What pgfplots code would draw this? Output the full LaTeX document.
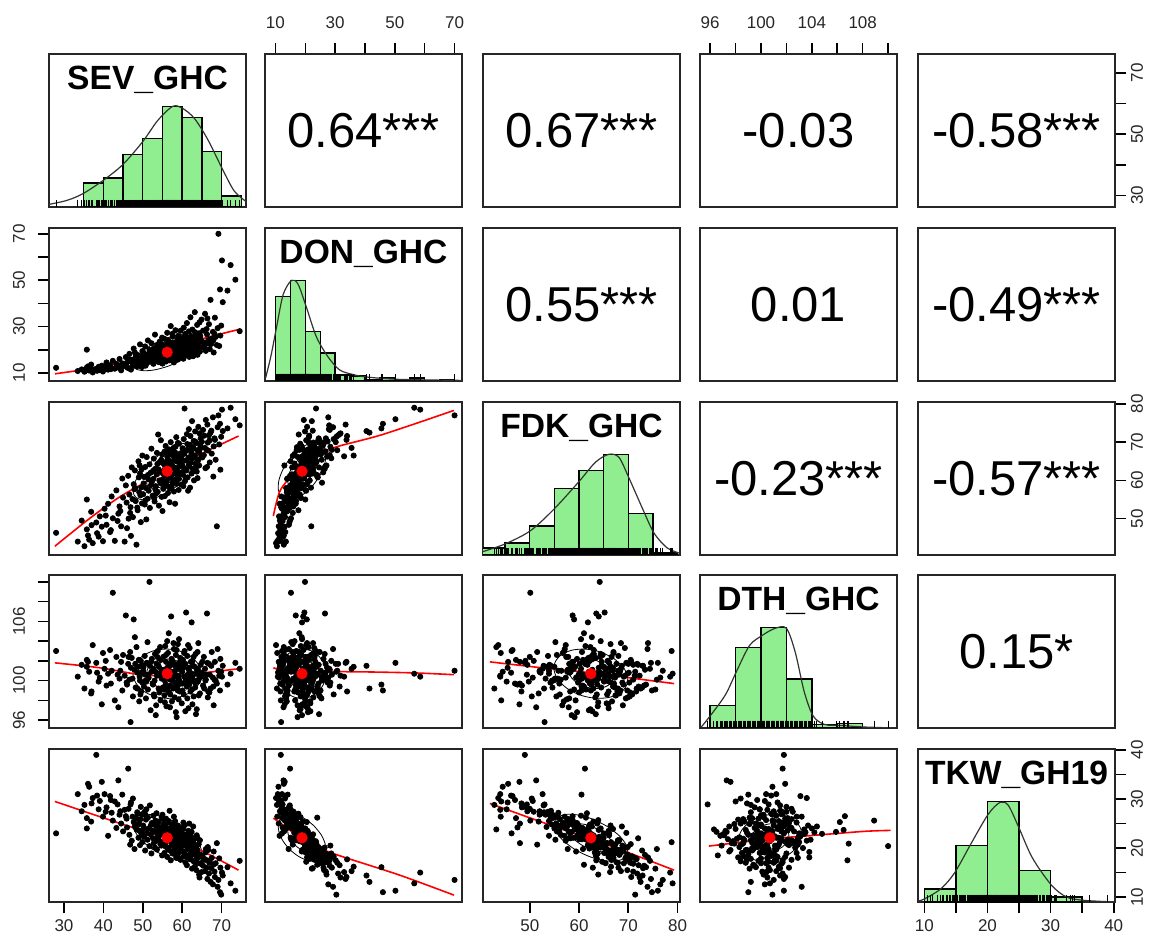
\documentclass[border=0pt]{standalone}
\usepackage{fontspec}
\setmainfont{Liberation Sans}
\usepackage{pgfplots}
\usepackage{pgfplotstable}
\pgfplotsset{compat=1.18}

\definecolor{histgreen}{RGB}{144,238,144}

% SEV DON FDK DTH TKW, one row per line
\pgfplotstableread{
SEV DON FDK DTH TKW
28.0 12.2 46.3 103.0 23.0
33.5 10.8 44.0 100.4 31.0
34.5 11.5 49.5 101.6 27.5
35.2 10.5 42.8 99.2 28.8
35.8 20.0 55.0 101.4 24.0
35.8 12.3 47.2 102.1 26.1
36.4 11.0 44.5 100.9 32.5
36.9 13.6 51.8 98.7 25.4
37.3 10.2 43.6 103.6 30.2
38.2 11.8 49.0 101.8 39.0
38.8 12.6 45.3 99.9 27.9
39.1 11.2 50.6 100.3 29.6
39.6 13.1 47.9 97.6 33.5
39.9 10.6 44.1 102.8 26.4
40.3 12.2 52.6 101.2 31.0
40.8 14.5 48.4 99.5 28.3
41.2 11.4 53.9 100.7 22.5
41.7 13.3 46.5 103.1 30.6
42.1 12.0 55.8 101.0 27.2
42.4 15.2 50.1 108.9 25.6
42.9 11.8 44.2 98.0 29.5
43.3 13.9 57.4 102.4 24.1
43.8 12.7 51.3 97.3 33.8
44.1 16.0 53.2 100.2 26.8
44.5 11.1 48.0 101.9 25.0
44.8 14.1 60.5 99.0 30.9
45.0 12.9 55.5 102.6 23.4
45.4 13.5 44.0 100.5 27.8
45.7 16.8 58.7 106.6 26.5
46.0 12.4 47.5 99.6 24.2
46.3 14.9 61.2 101.7 36.2
46.6 18.2 56.3 100.1 22.7
46.9 11.9 53.0 95.8 28.9
47.2 15.6 63.4 102.3 21.5
47.5 13.2 50.4 98.4 30.1
47.7 20.5 59.0 106.2 25.3
47.9 14.4 57.7 101.1 19.8
48.2 16.9 54.6 99.3 26.1
48.4 12.8 43.2 103.4 23.8
48.7 17.7 52.2 100.8 27.0
48.9 15.1 65.0 101.4 22.1
49.1 13.8 56.9 97.9 24.9
49.3 22.3 61.8 100.0 20.6
49.5 14.7 49.1 102.0 28.4
49.6 16.3 58.2 98.9 23.1
49.8 12.5 54.0 101.6 26.9
49.9 19.4 66.5 99.8 21.2
47.0 11.4 45.5 101.3 29.3
48.0 18.8 62.6 104.4 24.4
46.8 15.8 51.5 102.9 20.7
49.2 13.0 63.9 100.4 25.7
50.1 14.2 56.4 101.0 24.6
50.3 18.6 60.9 99.4 22.3
50.5 16.1 53.7 102.5 27.4
50.6 21.4 63.5 100.6 19.5
50.8 13.6 58.0 98.2 25.8
51.0 17.5 66.1 101.8 23.0
51.2 15.3 55.2 103.9 21.7
51.3 24.0 61.4 99.1 26.2
51.5 16.7 57.3 100.3 24.0
51.7 19.9 64.2 110.0 20.4
51.8 14.8 52.8 101.5 28.7
52.0 18.1 62.0 97.0 22.8
52.2 22.8 68.3 100.9 18.9
52.3 15.9 59.6 102.2 25.1
52.5 17.2 56.0 99.7 23.5
52.7 13.9 60.4 101.2 26.6
52.8 20.6 65.7 98.6 21.0
53.0 16.4 54.5 100.0 24.8
53.1 26.5 63.0 102.7 20.1
53.3 18.9 58.5 96.5 23.3
53.5 15.5 61.6 101.7 27.1
53.6 21.8 67.2 100.5 19.7
53.8 17.0 57.0 103.0 22.5
54.0 19.2 62.9 99.2 25.4
54.1 14.6 53.4 101.4 24.3
54.3 23.5 64.8 100.7 21.4
54.5 16.6 59.3 98.0 23.9
54.6 20.3 70.5 102.1 20.8
54.8 18.4 55.7 100.2 26.3
54.9 25.2 66.8 101.0 18.5
50.9 15.0 49.8 99.9 27.9
53.9 17.8 72.0 101.6 22.0
55.0 17.3 60.2 100.8 23.6
55.1 21.0 64.5 99.3 21.1
55.2 15.7 57.8 102.4 25.9
55.4 19.6 62.7 101.1 22.4
55.5 24.7 67.5 98.5 19.0
55.6 16.2 55.9 100.0 24.5
55.7 18.5 61.3 103.5 23.2
55.8 22.1 69.0 99.6 20.3
55.9 14.9 58.6 101.9 26.0
56.0 20.2 63.8 97.4 21.8
56.1 17.6 59.9 100.6 23.0
56.2 27.3 66.2 101.3 18.2
56.3 19.0 62.4 99.0 22.7
56.4 16.0 56.7 102.8 25.2
56.5 23.3 65.3 100.4 20.0
56.6 18.0 61.0 104.8 22.9
56.7 20.9 68.1 98.8 19.6
56.8 15.4 54.3 101.5 27.6
56.9 22.5 63.1 100.1 21.5
57.0 17.9 60.7 99.5 24.1
57.1 30.2 70.0 101.7 17.5
57.2 19.3 64.0 106.5 23.7
57.3 16.5 58.3 100.9 22.0
57.4 21.6 66.7 97.9 20.9
57.5 18.2 62.2 102.0 24.8
57.6 25.6 59.4 100.3 19.3
57.7 17.1 67.9 99.2 21.6
57.8 20.5 61.7 101.6 23.4
57.9 14.5 57.1 103.2 26.4
58.0 22.9 65.9 100.7 18.8
58.1 19.8 63.3 98.3 22.2
58.2 16.8 53.9 101.0 25.5
58.3 28.4 68.8 99.8 20.5
58.4 18.7 62.8 102.6 21.3
58.5 21.2 71.3 100.5 18.0
58.6 17.4 59.1 96.3 23.8
58.7 23.8 64.9 101.4 20.7
58.8 19.5 60.5 99.4 22.6
58.9 15.8 66.4 103.7 24.6
59.0 26.0 62.1 100.2 19.9
59.1 20.0 57.5 98.1 21.9
59.2 18.3 69.6 101.8 23.1
59.3 22.0 63.6 100.0 17.9
59.5 16.9 61.9 102.3 24.2
59.6 24.4 67.1 99.7 20.2
59.8 19.1 58.9 101.2 22.1
59.9 21.7 65.6 97.7 21.0
60.0 18.6 64.1 100.9 22.3
60.1 25.1 68.4 99.0 19.4
60.2 21.3 61.5 102.1 21.7
60.3 16.4 66.9 101.3 23.9
60.4 29.5 70.8 98.6 18.3
60.5 20.1 63.2 100.4 20.6
60.6 23.6 78.8 103.0 21.2
60.7 17.7 59.8 99.8 24.7
60.8 26.8 67.6 101.7 17.1
61.0 19.7 65.2 106.9 20.9
61.1 22.6 62.6 100.1 22.8
61.2 31.5 72.1 99.4 16.5
61.3 18.1 68.0 102.5 21.4
61.4 24.2 60.8 100.6 19.8
61.6 20.8 66.0 97.2 23.5
61.7 27.9 73.4 101.1 18.6
61.8 16.9 63.7 99.6 25.0
61.9 23.0 69.3 103.3 20.0
62.0 21.9 58.1 100.8 22.1
62.1 34.0 71.6 98.9 17.7
62.2 19.4 64.6 101.9 21.3
62.3 25.8 67.3 100.3 19.1
62.4 18.9 61.8 105.9 23.3
62.5 22.2 75.5 99.1 15.8
62.6 28.7 65.8 102.0 18.9
62.7 20.4 63.0 100.5 20.4
62.8 17.2 68.7 101.5 24.4
62.9 24.9 70.3 98.4 17.3
63.0 21.5 60.0 100.0 21.8
63.2 36.2 66.5 101.4 16.2
63.3 19.9 72.8 99.3 19.5
63.4 23.4 64.4 102.7 20.1
63.6 26.3 69.8 100.7 15.5
63.7 18.4 62.3 97.1 22.6
63.8 30.7 67.9 101.0 17.0
64.0 22.4 65.1 99.9 19.0
64.1 20.6 74.0 103.8 18.1
64.3 27.1 63.9 100.2 14.6
64.5 19.2 68.2 98.7 21.6
64.7 24.5 71.0 101.6 16.8
64.9 33.0 66.3 100.4 15.1
65.0 21.0 70.1 100.8 18.4
65.3 28.2 73.2 99.5 16.4
65.5 23.1 66.6 102.4 17.6
65.8 35.5 68.5 101.2 15.3
66.0 19.5 75.8 100.1 19.8
66.3 26.6 63.5 106.8 17.5
66.5 22.7 69.9 98.3 20.2
66.8 31.0 71.8 101.7 14.8
67.0 20.3 64.7 100.6 17.2
67.2 41.5 72.5 99.2 13.1
67.5 24.8 67.0 102.9 18.0
67.8 27.7 76.5 100.3 12.6
68.0 18.8 68.9 97.5 19.3
68.3 33.8 70.6 101.9 14.1
68.5 25.5 65.4 100.0 16.9
68.8 22.0 48.0 99.7 21.0
69.0 29.3 73.9 103.2 12.1
69.2 70.0 77.0 101.0 13.5
69.4 21.6 69.4 100.5 17.9
69.6 46.0 74.8 99.0 11.0
69.7 26.1 62.8 102.2 16.0
69.9 30.4 71.4 100.9 10.5
70.1 58.5 78.5 100.4 15.0
66.6 24.0 67.8 98.9 19.6
70.3 40.5 72.9 101.5 14.4
71.5 45.5 73.6 99.6 16.1
72.3 56.5 79.0 100.7 12.8
73.5 50.2 76.0 101.8 11.3
74.6 28.0 74.4 101.2 17.4
51.4 17.9 60.3 100.6 23.9
52.1 16.3 58.8 101.9 24.7
52.6 19.7 62.5 99.6 22.0
53.2 15.2 57.6 100.9 25.6
53.7 20.7 64.3 102.4 21.6
54.2 17.5 60.0 98.8 23.7
54.7 22.4 65.4 101.1 20.5
55.3 18.8 61.6 100.3 22.8
55.3 16.6 59.0 99.1 24.9
55.9 21.9 64.8 102.6 21.2
56.0 19.1 62.0 100.9 23.4
56.4 24.1 66.9 99.4 19.8
56.6 17.0 58.4 101.4 25.5
57.0 20.6 63.6 98.6 21.9
57.3 23.0 61.8 102.2 20.6
57.6 18.6 65.0 100.0 23.0
58.0 15.9 60.1 101.7 24.3
58.2 21.4 67.3 99.3 20.0
58.6 19.4 63.0 103.1 22.4
59.0 17.8 61.2 100.5 23.6
59.4 23.1 66.0 98.9 19.4
59.7 20.4 64.6 101.5 21.3
60.1 18.0 62.2 99.7 22.9
60.5 22.8 67.0 102.8 19.0
60.9 19.6 60.6 100.2 21.8
61.3 25.4 69.5 98.2 18.1
61.7 21.1 64.0 101.3 20.3
62.1 18.5 66.1 99.9 22.6
62.5 23.9 68.2 100.7 18.6
62.9 20.0 62.4 102.4 21.0
63.3 27.5 70.2 99.8 17.4
63.8 22.1 65.5 101.2 19.7
64.2 19.8 67.4 98.5 20.8
64.6 25.9 69.1 100.4 16.9
65.1 23.4 66.0 101.9 18.2
65.6 21.3 71.7 99.2 17.8
66.2 28.9 68.0 100.6 16.0
66.9 24.3 70.4 98.8 17.0
67.4 22.5 73.0 101.5 15.9
68.2 26.9 71.0 100.1 15.2
47.4 14.1 55.1 100.2 26.4
48.1 15.5 58.0 101.7 24.9
48.6 13.4 52.9 99.2 27.3
49.0 16.6 60.8 102.1 23.6
49.4 14.0 56.1 98.6 25.9
49.7 17.3 62.9 100.8 22.6
50.2 15.6 59.2 101.4 24.0
50.7 13.1 54.8 100.0 26.7
44.3 13.0 52.0 101.0 27.5
45.9 14.3 54.2 99.8 26.0
46.4 12.0 50.0 102.4 28.0
43.6 12.4 49.4 100.6 28.9
41.9 11.6 47.0 99.7 29.8
40.6 12.9 50.8 102.0 27.4
38.4 10.9 46.2 100.8 30.7
37.0 11.7 48.3 98.9 29.1
36.1 12.8 45.6 101.9 33.1
56.9 18.4 57.9 97.3 23.3
58.4 20.9 59.6 96.8 22.5
55.6 19.9 63.9 97.8 21.4
60.8 21.7 62.7 96.9 20.5
53.4 17.4 56.6 97.5 24.4
62.6 19.0 65.9 97.6 19.6
57.8 22.6 68.5 103.8 19.2
59.2 18.9 60.4 104.2 23.2
54.4 21.1 62.3 103.4 22.9
61.5 20.3 57.3 103.6 21.5
56.2 16.4 64.4 104.0 24.0
63.5 24.6 63.4 96.6 18.5
52.9 18.5 55.4 98.4 25.0
58.9 24.8 69.8 99.0 18.7
55.0 14.0 52.0 100.9 26.8
60.3 16.1 58.5 101.6 25.2
64.4 31.8 72.3 100.5 14.0
65.9 20.1 63.2 100.0 19.1
66.4 33.5 74.6 101.8 13.7
67.9 24.0 61.0 99.4 16.6
63.9 17.8 60.6 102.9 22.0
57.5 26.8 63.8 100.8 18.9
59.6 28.2 66.6 101.1 17.6
}\pairs

% unit circle, used for the correlation ellipses
\pgfplotstableread{
c s
1 0
0.9239 0.3827
0.7071 0.7071
0.3827 0.9239
0 1
-0.3827 0.9239
-0.7071 0.7071
-0.9239 0.3827
-1 0
-0.9239 -0.3827
-0.7071 -0.7071
-0.3827 -0.9239
0 -1
0.3827 -0.9239
0.7071 -0.7071
0.9239 -0.3827
1 0
}\unitcircle

\pgfplotsset{
  panel/.style={
    scale only axis, width=98.5pt, height=76.5pt, anchor=south west,
    axis line style={line width=1pt, black!85},
    xtick=\empty, ytick=\empty,
    tick align=outside, major tick length=5.5pt,
    tick style={black, line width=0.8pt},
    tick label style={font=\fontsize{8.5}{10}\selectfont, black!85},
  },
  pts/.style={only marks, mark=*, mark size=1.3pt, black},
  loess/.style={red, line width=0.8pt, smooth},
  meandot/.style={only marks, mark=*, mark size=2.6pt, red},
  ell/.style={black, line width=0.4pt, smooth},
  hist/.style={ybar interval, fill=histgreen, draw=black, line width=0.7pt},
  dens/.style={black!80, line width=0.6pt, smooth},
  rug/.style={only marks, mark=|, mark size=1.75pt, black, mark options={line width=0.5pt}},
  topticks/.style={xtick pos=right, xticklabel pos=right,
    xticklabel style={anchor=south, yshift=3.5pt}},
  bottomticks/.style={xtick pos=left, xticklabel pos=left},
  leftticks/.style={ytick pos=left, yticklabel pos=left,
    yticklabel style={rotate=90, anchor=south}, yticklabel shift=3pt},
  rightticks/.style={ytick pos=right, yticklabel pos=right,
    yticklabel style={rotate=90, anchor=north}, yticklabel shift=-1pt},
  sevx/.style={xmin=26.2, xmax=76.2}, sevy/.style={ymin=26.2, ymax=76.2},
  donx/.style={xmin=6.5, xmax=72.5},  dony/.style={ymin=6.5, ymax=72.5},
  fdkx/.style={xmin=40.5, xmax=80.5}, fdky/.style={ymin=40.5, ymax=80.5},
  dthx/.style={xmin=95.2, xmax=110.7}, dthy/.style={ymin=95.2, ymax=110.7},
  tkwx/.style={xmin=9.0, xmax=40.2},  tkwy/.style={ymin=9.0, ymax=40.2},
  histy/.style={ymin=0, ymax=1.52},
  blank/.style={xmin=0, xmax=1, ymin=0, ymax=1},
}

\newcommand{\varlabel}[1]{\node[font=\fontsize{16.8}{18}\selectfont\bfseries] at (rel axis cs:0.5,0.83) {#1};}
\newcommand{\corrtext}[1]{\node[font=\fontsize{24.5}{27}\selectfont] at (rel axis cs:0.5,0.5) {#1};}
% mean x, sd x, mean y, sd y, r
\newcommand{\ellipses}[5]{%
  \addplot[ell] table[x expr={#1+#2*0.7071*(\thisrow{c}*sqrt(1+(#5))-\thisrow{s}*sqrt(1-(#5)))},
                      y expr={#3+#4*0.7071*(\thisrow{c}*sqrt(1+(#5))+\thisrow{s}*sqrt(1-(#5)))}] {\unitcircle};
  \addplot[ell] table[x expr={#1+0.6*#2*0.7071*(\thisrow{c}*sqrt(1+(#5))-\thisrow{s}*sqrt(1-(#5)))},
                      y expr={#3+0.6*#4*0.7071*(\thisrow{c}*sqrt(1+(#5))+\thisrow{s}*sqrt(1-(#5)))}] {\unitcircle};
}

\begin{document}
\begin{tikzpicture}
\path[use as bounding box] (0,0) rectangle (578.5pt,471.5pt);

% ---------------- row 1
\begin{axis}[panel, at={(24.5pt,368pt)}, sevx, histy]
  \addplot[hist] coordinates {(35,0.24)(40,0.29)(45,0.52)(50,0.68)(55,1.0)(60,0.89)(65,0.55)(70,0.11)(75,0.11)};
  \addplot[dens] coordinates {(26.2,0.026)(30.7,0.065)(34.7,0.13)(39.8,0.26)(44.9,0.42)(50,0.65)(53.8,0.86)(57.6,1.0)(60.1,0.98)(63.1,0.88)(66.5,0.67)(70.3,0.37)(73.2,0.16)(76.2,0.055)};
  \addplot[rug] table[x=SEV, y expr=0.035] {\pairs};
  \varlabel{SEV\_GHC}
\end{axis}
\begin{axis}[panel, at={(132.5pt,368pt)}, donx, ymin=0, ymax=1, topticks,
    xtick={10,20,...,70}, xticklabels={10,,30,,50,,70}]
  \corrtext{0.64***}
\end{axis}
\begin{axis}[panel, at={(241.5pt,368pt)}, blank]
  \corrtext{0.67***}
\end{axis}
\begin{axis}[panel, at={(350pt,368pt)}, dthx, ymin=0, ymax=1, topticks,
    xtick={96,98,...,110}, xticklabels={96,,100,,104,,108,}]
  \corrtext{-0.03}
\end{axis}
\begin{axis}[panel, at={(459pt,368pt)}, xmin=0, xmax=1, sevy, rightticks,
    ytick={30,40,...,70}, yticklabels={30,,50,,70}]
  \corrtext{-0.58***}
\end{axis}

% ---------------- row 2
\begin{axis}[panel, at={(24.5pt,281pt)}, sevx, dony, leftticks,
    ytick={10,20,...,70}, yticklabels={10,,30,,50,,70}]
  \addplot[pts] table[x=SEV, y=DON] {\pairs};
  \ellipses{56.2}{8.7}{18.9}{8.0}{0.64}
  \addplot[loess] coordinates {(27.7,9.6)(39,12.4)(49,15.9)(56,19.4)(64.5,24.4)(74.3,28.7)};
  \addplot[meandot] coordinates {(56.2,18.9)};
\end{axis}
\begin{axis}[panel, at={(132.5pt,281pt)}, donx, histy]
  \addplot[hist] coordinates {(10,0.84)(15,1.0)(20,0.49)(25,0.28)(30,0.06)(35,0.05)(40,0.015)(45,0.03)(50,0.015)(55,0.03)(60,0)(65,0.015)(70,0.015)};
  \addplot[dens] coordinates {(6.7,0.03)(8.5,0.25)(10.4,0.54)(12.6,0.86)(15.4,1.0)(17.6,0.96)(20.4,0.73)(23.7,0.44)(27.6,0.24)(31.5,0.11)(35.9,0.065)(40.4,0.04)(51.5,0.016)(72.5,0.006)};
  \addplot[rug] table[x=DON, y expr=0.035] {\pairs};
  \varlabel{DON\_GHC}
\end{axis}
\begin{axis}[panel, at={(241.5pt,281pt)}, blank]
  \corrtext{0.55***}
\end{axis}
\begin{axis}[panel, at={(350pt,281pt)}, blank]
  \corrtext{0.01}
\end{axis}
\begin{axis}[panel, at={(459pt,281pt)}, blank]
  \corrtext{-0.49***}
\end{axis}

% ---------------- row 3
\begin{axis}[panel, at={(24.5pt,194pt)}, sevx, fdky]
  \addplot[pts] table[x=SEV, y=FDK] {\pairs};
  \ellipses{56.2}{8.7}{62.4}{7.5}{0.67}
  \addplot[loess] coordinates {(27.7,42.8)(36.7,50.2)(45.1,56.3)(56.1,62.4)(64.5,66.8)(74.3,71.6)};
  \addplot[meandot] coordinates {(56.2,62.4)};
\end{axis}
\begin{axis}[panel, at={(132.5pt,194pt)}, donx, fdky]
  \addplot[pts] table[x=DON, y=FDK] {\pairs};
  \ellipses{18.9}{8.0}{62.4}{7.5}{0.55}
  \addplot[loess] coordinates {(9.3,50.7)(11.5,57.2)(15.9,61.6)(21.5,65.5)(29.3,68.5)(45.9,72)(69.8,78.3)};
  \addplot[meandot] coordinates {(18.9,62.4)};
\end{axis}
\begin{axis}[panel, at={(241.5pt,194pt)}, fdkx, histy]
  \addplot[hist] coordinates {(40,0.07)(45,0.12)(50,0.29)(55,0.66)(60,0.84)(65,1.0)(70,0.41)(75,0.02)(80,0.02)};
  \addplot[dens] coordinates {(40.5,0.034)(45,0.11)(50.1,0.24)(55,0.46)(60,0.73)(63.3,0.92)(66,1.0)(68.1,0.97)(70.1,0.77)(72.9,0.46)(75.2,0.22)(77.9,0.07)(80.5,0.017)};
  \addplot[rug] table[x=FDK, y expr=0.035] {\pairs};
  \varlabel{FDK\_GHC}
\end{axis}
\begin{axis}[panel, at={(350pt,194pt)}, blank]
  \corrtext{-0.23***}
\end{axis}
\begin{axis}[panel, at={(459pt,194pt)}, xmin=0, xmax=1, fdky, rightticks,
    ytick={50,60,70,80}, yticklabels={50,60,70,80}]
  \corrtext{-0.57***}
\end{axis}

% ---------------- row 4
\begin{axis}[panel, at={(24.5pt,107.5pt)}, sevx, dthy, leftticks,
    ytick={96,98,...,110}, yticklabels={96,,100,,,106,,}]
  \addplot[pts] table[x=SEV, y=DTH] {\pairs};
  \ellipses{56.2}{8.7}{100.7}{2.5}{-0.03}
  \addplot[loess] coordinates {(27.7,101.8)(39.1,101.3)(49.3,100.6)(56.1,100.5)(61,100.6)(74.3,101.2)};
  \addplot[meandot] coordinates {(56.2,100.7)};
\end{axis}
\begin{axis}[panel, at={(132.5pt,107.5pt)}, donx, dthy]
  \addplot[pts] table[x=DON, y=DTH] {\pairs};
  \ellipses{18.9}{8.0}{100.7}{2.5}{0.01}
  \addplot[loess] coordinates {(9.3,101.3)(18.2,100.6)(29.3,100.9)(54.3,100.8)(69.8,100.6)};
  \addplot[meandot] coordinates {(18.9,100.7)};
\end{axis}
\begin{axis}[panel, at={(241.5pt,107.5pt)}, fdkx, dthy]
  \addplot[pts] table[x=FDK, y=DTH] {\pairs};
  \ellipses{62.4}{7.5}{100.7}{2.5}{-0.23}
  \addplot[loess] coordinates {(41.9,101.9)(52.4,101.3)(62.3,100.8)(71.5,100.2)(79.3,99.7)};
  \addplot[meandot] coordinates {(62.4,100.7)};
\end{axis}
\begin{axis}[panel, at={(350pt,107.5pt)}, dthx, histy]
  \addplot[hist] coordinates {(96,0.226)(98,0.80)(100,1.0)(102,0.486)(104,0.035)(106,0.045)(108,0.045)};
  \addplot[dens] coordinates {(95.3,0.01)(96,0.12)(97.2,0.33)(98.1,0.57)(99.1,0.82)(100.1,0.92)(101.1,0.99)(102,0.99)(102.7,0.75)(103.4,0.36)(104.1,0.12)(105,0.035)(106.3,0.025)(108.1,0.01)(110.6,0)};
  \addplot[rug] table[x=DTH, y expr=0.035] {\pairs};
  \varlabel{DTH\_GHC}
\end{axis}
\begin{axis}[panel, at={(459pt,107.5pt)}, blank]
  \corrtext{0.15*}
\end{axis}

% ---------------- row 5
\begin{axis}[panel, at={(24.5pt,20.5pt)}, sevx, tkwy, bottomticks,
    xtick={30,40,...,70}, xticklabels={30,40,50,60,70}]
  \addplot[pts] table[x=SEV, y=TKW] {\pairs};
  \ellipses{56.2}{8.7}{22.1}{4.8}{-0.58}
  \addplot[loess] coordinates {(27.7,29.5)(39.1,26.4)(49.3,23.7)(56.1,22.0)(64.5,19.6)(74.3,15.5)};
  \addplot[meandot] coordinates {(56.2,22.1)};
\end{axis}
\begin{axis}[panel, at={(132.5pt,20.5pt)}, donx, tkwy]
  \addplot[pts] table[x=DON, y=TKW] {\pairs};
  \ellipses{18.9}{8.0}{22.1}{4.8}{-0.49}
  \addplot[loess] coordinates {(9.3,26.1)(14.8,23.7)(18.7,21.7)(29.3,18.9)(51.5,14.5)(69.8,10.4)};
  \addplot[meandot] coordinates {(18.9,22.1)};
\end{axis}
\begin{axis}[panel, at={(241.5pt,20.5pt)}, fdkx, tkwy, bottomticks,
    xtick={50,60,70,80}, xticklabels={50,60,70,80}]
  \addplot[pts] table[x=FDK, y=TKW] {\pairs};
  \ellipses{62.4}{7.5}{22.1}{4.8}{-0.57}
  \addplot[loess] coordinates {(41.9,29.1)(52.4,25.3)(62.3,21.9)(71.5,18.5)(79.3,15.5)};
  \addplot[meandot] coordinates {(62.4,22.1)};
\end{axis}
\begin{axis}[panel, at={(350pt,20.5pt)}, dthx, tkwy]
  \addplot[pts] table[x=DTH, y=TKW] {\pairs};
  \ellipses{100.7}{2.5}{22.1}{4.8}{0.15}
  \addplot[loess] coordinates {(95.9,20.4)(100.8,21.9)(103.7,22.5)(108.1,23.4)(110.2,23.6)};
  \addplot[meandot] coordinates {(100.7,22.1)};
\end{axis}
\begin{axis}[panel, at={(459pt,20.5pt)}, tkwx, histy, bottomticks, rightticks,
    xtick={10,15,...,40}, xticklabels={10,,20,,30,,40},
    ytick={0.0487,0.2923,0.5359,0.7795,1.0231,1.2667,1.5103}, yticklabels={10,,20,,30,,40}]
  \addplot[hist] coordinates {(10,0.13)(15,0.563)(20,1.0)(25,0.314)(30,0.051)(35,0.051)};
  \addplot[dens] coordinates {(9,0.01)(10,0.03)(12.6,0.13)(14.8,0.29)(17.4,0.58)(20.1,0.87)(22,0.99)(23.3,0.96)(24.9,0.75)(27.1,0.44)(30.1,0.17)(32.5,0.05)(35.2,0.017)(40.2,0)};
  \addplot[rug] table[x=TKW, y expr=0.035] {\pairs};
  \varlabel{TKW\_GH19}
\end{axis}
\end{tikzpicture}
\end{document}
